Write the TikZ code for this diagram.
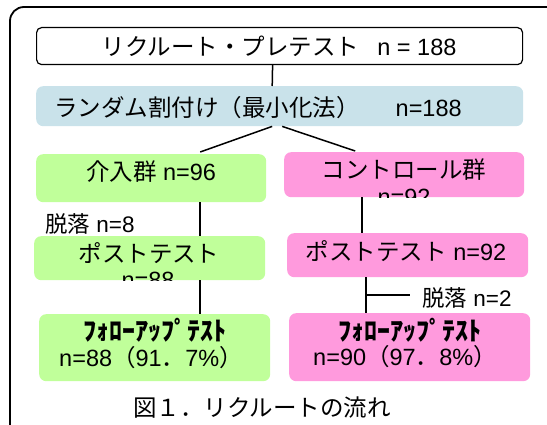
\documentclass[tikz,border=0pt]{standalone}
\usepackage{fontspec}
\setmainfont{Noto Sans CJK JP}
\newfontfamily\la{Liberation Sans}
\definecolor{gfill}{HTML}{C0FF9A}
\definecolor{pfill}{HTML}{FF9ADD}
\definecolor{bfill}{HTML}{C9E2EA}
\tikzset{
  box/.style={rectangle, rounded corners=7pt, inner sep=0pt, anchor=north west},
  gbox/.style={box, fill=gfill},
  pbox/.style={box, fill=pfill},
  lab/.style={inner sep=0pt, anchor=base, font=\fontsize{23.5}{27}\selectfont},
  small/.style={lab, anchor=base west, font=\fontsize{22.5}{27}\selectfont},
  kana/.style={lab, font=\bfseries\fontsize{26}{28}\selectfont},
  con/.style={line width=1.5pt, black},
}
\begin{document}
\begin{tikzpicture}[x=1pt,y=-1pt]
\useasboundingbox (0,0) rectangle (547,425);
\clip (0,0) rectangle (547,425);
% outer frame
\draw[line width=1.8pt, rounded corners=14pt] (10,7) rectangle (575,455);
% boxes
\node[box, draw, line width=1.2pt, rounded corners=5pt, fill=white, minimum width=486pt, minimum height=37pt] (top) at (36,27) {};
\node[box, fill=bfill, minimum width=487pt, minimum height=40pt] (blue) at (36,86) {};
\node[gbox, minimum width=230pt, minimum height=48pt] (g1) at (36,154) {};
\node[pbox, minimum width=240pt, minimum height=45pt] (p1) at (284,152) {};
\node[gbox, minimum width=231pt, minimum height=44pt] (g2) at (34,236) {};
\node[pbox, minimum width=241pt, minimum height=44pt] (p2) at (287,233) {};
\node[gbox, minimum width=231pt, minimum height=67pt] (g3) at (39,314) {};
\node[pbox, minimum width=241pt, minimum height=68pt] (p3) at (289,313) {};
% connectors
\draw[con] ([xshift=-7pt]top.south) -- ([xshift=-7.5pt]blue.north);
\draw[con] ([xshift=-7.5pt]blue.south) -- ([xshift=49pt,yshift=2pt]g1.north);
\draw[con] ([xshift=2.5pt]blue.south) -- ([xshift=-49pt,yshift=1pt]p1.north);
\draw[con] ([xshift=49pt]g1.south) -- ([xshift=50.5pt]g2.north);
\draw[con] ([xshift=50.5pt]g2.south) -- ([xshift=45.5pt]g3.north);
\draw[con] ([xshift=-42pt]p1.south) -- ([xshift=-45.5pt]p2.north);
\draw[con] ([xshift=-41.5pt]p2.south) -- ([xshift=-43.5pt]p3.north);
\coordinate (tk1) at (366,295);
\coordinate (tk2) at (410,295);
\draw[con] (tk1) -- (tk2);
% texts
\node[lab] (t0) at (279,56) {リクルート・プレテスト\hspace{18pt}{\la n = 188}};
\node[lab, anchor=base west] (t1) at (54,117) {ランダム割付け（最小化法）\hspace{36pt}{\la n=188}};
\node[lab] (tg1) at (151,181) {介入群{\la\ n=96}};
\node[lab] (tp1) at (404,179) {コントロール群};
\begin{scope}
  \clip[rounded corners=7pt] (p1.north west) rectangle (p1.south east);
  \node[lab] (tp1n) at (404,206) {\la n=92};
\end{scope}
\node[small] (d1) at (45,233) {脱落{\la\ n=8}};
\node[lab] (tg2) at (149,262) {ポストテスト};
\begin{scope}
  \clip[rounded corners=7pt] (g2.north west) rectangle (g2.south east);
  \node[lab] (tg2n) at (148,289) {\la n=88};
\end{scope}
\node[lab] (tp2) at (406,261) {ポストテスト{\la\ n=92}};
\node[small] (d2) at (422,306) {脱落{\la\ n=2}};
\node[kana] (tg3a) at (155,341) {ﾌｫﾛｰｱｯﾌﾟﾃｽﾄ};
\node[lab] (tg3b) at (151,366.5) {{\la n=88}（{\la 91}．{\la 7\%}）};
\node[kana] (tp3a) at (409.5,341) {ﾌｫﾛｰｱｯﾌﾟﾃｽﾄ};
\node[lab] (tp3b) at (405,366) {{\la n=90}（{\la 97}．{\la 8\%}）};
\node[lab] (cap) at (262,416) {図１．リクルートの流れ};
\end{tikzpicture}
\end{document}
